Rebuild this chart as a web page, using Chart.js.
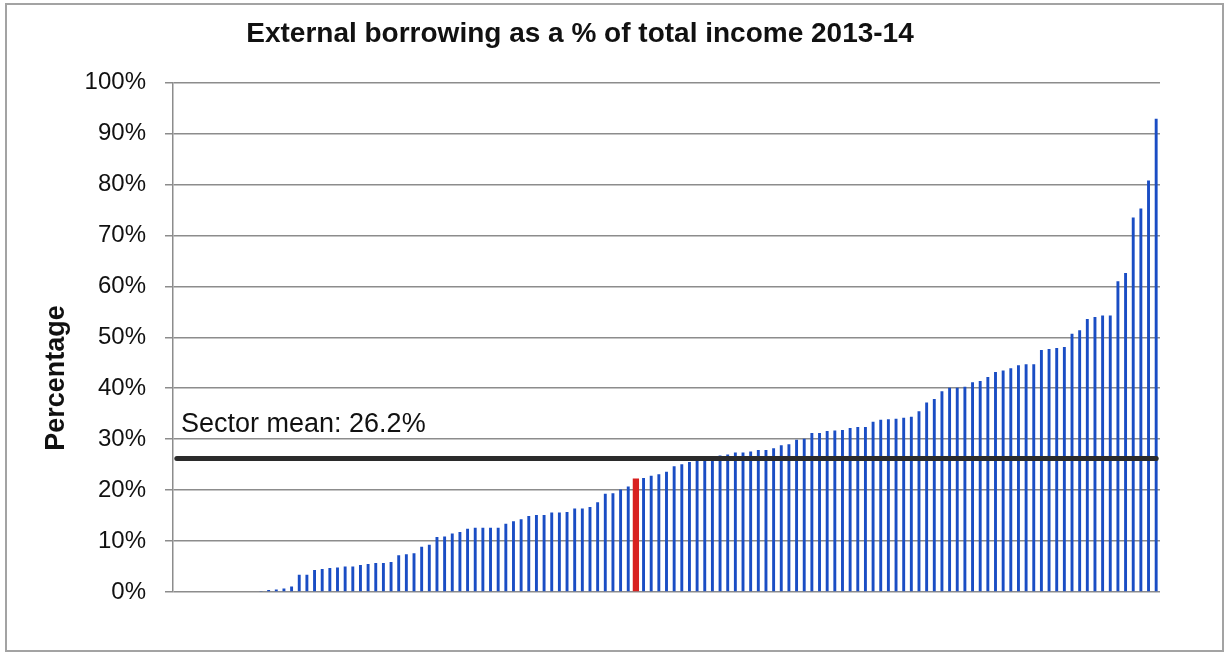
<!DOCTYPE html>
<html>
<head>
<meta charset="utf-8">
<title>External borrowing as a % of total income 2013-14</title>
<script src="https://cdn.jsdelivr.net/npm/chart.js@4/dist/chart.umd.min.js"></script>
<style>
  html, body { margin: 0; padding: 0; background: #fff; }
  #wrap { position: relative; width: 1226px; height: 654px; }
  #frame { position: absolute; left: 5px; top: 3px; width: 1219px; height: 649px; border: 2px solid #a3a3a3; box-sizing: border-box; }
  #chart { position: absolute; left: 0; top: 0; }
</style>
</head>
<body>
<div id="wrap">
  <div id="frame"></div>
  <canvas id="chart" width="1226" height="654"></canvas>
</div>
<script>
// Institutions with no external borrowing (drawn as zero-height bars)
var zeroValues = [0, 0, 0, 0, 0, 0, 0, 0, 0, 0, 0];

// External borrowing as % of total income, sorted ascending
var borrowingValues = [
  0.2, 0.4, 0.5, 0.7, 1.1, 3.4, 3.4, 4.3, 4.5, 4.7,
  4.8, 5.0, 5.0, 5.3, 5.5, 5.7, 5.7, 5.9, 7.2, 7.4,
  7.6, 8.9, 9.3, 10.8, 10.9, 11.5, 11.8, 12.4, 12.6, 12.6,
  12.6, 12.6, 13.4, 13.9, 14.3, 14.9, 15.1, 15.1, 15.6, 15.6,
  15.7, 16.4, 16.4, 16.7, 17.6, 19.3, 19.4, 20.1, 20.7, 22.3,
  22.4, 22.8, 23.1, 23.6, 24.7, 25.1, 25.5, 26.0, 26.0, 26.1,
  26.8, 27.0, 27.4, 27.4, 27.6, 27.9, 27.9, 28.2, 28.8, 29.0,
  29.9, 30.1, 31.2, 31.2, 31.6, 31.7, 31.8, 32.2, 32.4, 32.4,
  33.4, 33.8, 33.9, 34.0, 34.2, 34.4, 35.5, 37.2, 37.9, 39.4,
  40.1, 40.1, 40.3, 41.2, 41.4, 42.2, 43.2, 43.5, 43.9, 44.5,
  44.7, 44.7, 47.5, 47.7, 47.9, 48.1, 50.7, 51.4, 53.6, 54.0,
  54.3, 54.3, 61.0, 62.6, 73.5, 75.3, 80.8, 92.9
];

var highlightIndex = 60;      // the highlighted (red) institution
var sectorMean = 26.2;
var yTicks = [0, 10, 20, 30, 40, 50, 60, 70, 80, 90, 100];

var chartTitle = 'External borrowing as a % of total income 2013-14';
var yAxisTitle = 'Percentage';
var meanLabel = 'Sector mean: ' + sectorMean + '%';

(function () {
  'use strict';

  var FONT = "'Liberation Sans', Arial, Helvetica, sans-serif";
  var allValues = zeroValues.concat(borrowingValues);

  var labels = allValues.map(function (v, i) { return 'HEI ' + (i + 1); });
  var blueData = allValues.map(function (v, i) { return i === highlightIndex ? null : v; });
  var redData = allValues.map(function (v, i) { return i === highlightIndex ? v : null; });
  var meanData = allValues.map(function () { return sectorMean; });

  var textPlugin = {
    id: 'extraText',
    afterDraw: function (chart) {
      var ctx = chart.ctx;
      var area = chart.chartArea;
      var y = chart.scales.y;
      ctx.save();
      ctx.fillStyle = '#111';
      ctx.font = '27px ' + FONT;
      ctx.textAlign = 'left';
      ctx.textBaseline = 'alphabetic';
      ctx.fillText(meanLabel, area.left + 8, y.getPixelForValue(sectorMean) - 27);

      ctx.translate(57, 378);
      ctx.rotate(-Math.PI / 2);
      ctx.font = 'bold 27px ' + FONT;
      ctx.textAlign = 'center';
      ctx.textBaseline = 'middle';
      ctx.fillText(yAxisTitle, 0, 0);
      ctx.restore();
    }
  };

  new Chart(document.getElementById('chart'), {
    type: 'bar',
    data: {
      labels: labels,
      datasets: [{
        type: 'line',
        label: 'Sector mean',
        data: meanData,
        borderColor: '#2b2b2b',
        borderWidth: 5,
        borderCapStyle: 'round',
        pointRadius: 0,
        fill: false,
        order: 0
      }, {
        label: 'Highlighted',
        data: redData,
        backgroundColor: '#d8201f',
        barPercentage: 0.82,
        categoryPercentage: 1,
        grouped: false,
        order: 1
      }, {
        label: 'External borrowing',
        data: blueData,
        backgroundColor: '#1a4dc4',
        barPercentage: 0.38,
        categoryPercentage: 1,
        grouped: false,
        order: 2
      }]
    },
    options: {
      responsive: false,
      animation: false,
      devicePixelRatio: 1,
      layout: { padding: { left: 0, right: 66, top: 0, bottom: 62 } },
      plugins: {
        legend: { display: false },
        tooltip: { enabled: false },
        title: {
          display: true,
          text: chartTitle,
          color: '#111',
          font: { family: FONT, size: 28, weight: 'bold' },
          padding: { top: 17, bottom: 32 }
        }
      },
      scales: {
        x: { display: false },
        y: {
          min: 0,
          max: 100,
          afterFit: function (scale) { scale.width = 173; },
          afterBuildTicks: function (scale) {
            scale.ticks = yTicks.map(function (v) { return { value: v }; });
          },
          ticks: {
            padding: 19,
            color: '#111',
            font: { family: FONT, size: 24 },
            callback: function (v) { return v + '%'; }
          },
          grid: { color: '#8c8c8c', lineWidth: 1.5, tickLength: 8 },
          border: { color: '#8c8c8c', width: 1.5 }
        }
      }
    },
    plugins: [textPlugin]
  });
})();
</script>
</body>
</html>
